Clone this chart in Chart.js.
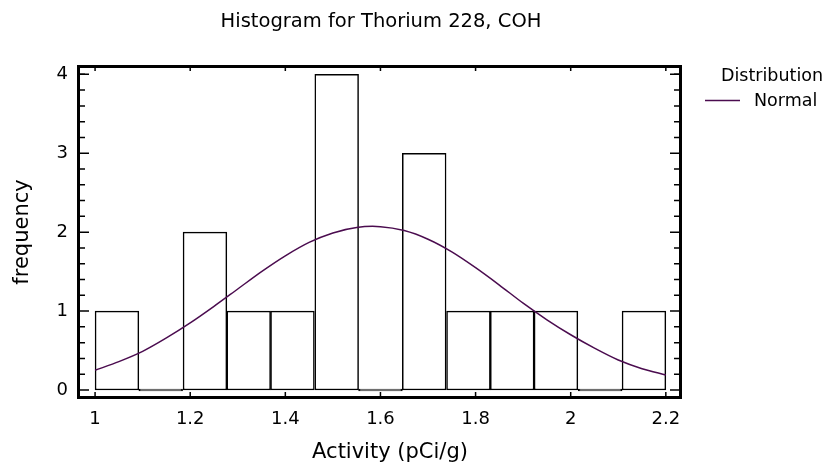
<!DOCTYPE html>
<html>
<head>
<meta charset="utf-8">
<script src="https://cdn.jsdelivr.net/npm/chart.js@4.4.1/dist/chart.umd.min.js"></script>
<style>
  html, body { margin: 0; padding: 0; background: #fff; }
  #wrap { width: 835px; height: 468px; position: relative; }
</style>
</head>
<body>
<div id="wrap"><canvas id="myChart"></canvas></div>
<script>
// histogram bins (centres) and counts
const binCenters = [1.046, 1.138, 1.231, 1.323, 1.415, 1.508, 1.600, 1.692, 1.785, 1.877, 1.969, 2.062, 2.154];
const binCounts = [1, 0, 2, 1, 1, 4, 0, 3, 1, 1, 1, 0, 1];

// fitted normal curve
const curveX = [1.00, 1.05, 1.10, 1.15, 1.20, 1.25, 1.30, 1.35, 1.40, 1.45, 1.50, 1.55, 1.60,
                1.65, 1.70, 1.75, 1.80, 1.85, 1.90, 1.95, 2.00, 2.05, 2.10, 2.15, 2.20];
const curveY = [0.25, 0.36, 0.49, 0.66, 0.85, 1.06, 1.28, 1.50, 1.70, 1.87, 1.99, 2.06, 2.07,
                2.02, 1.91, 1.75, 1.55, 1.33, 1.10, 0.89, 0.70, 0.53, 0.38, 0.27, 0.19];

const xTicks = [1, 1.2, 1.4, 1.6, 1.8, 2, 2.2];
const yTicks = [0, 1, 2, 3, 4];
const yMinor = [0.2, 0.4, 0.6, 0.8, 1.2, 1.4, 1.6, 1.8, 2.2, 2.4, 2.6, 2.8, 3.2, 3.4, 3.6, 3.8, 4.0];

const FONT = "'DejaVu Sans', sans-serif";
const curveColor = "#4b0c4f";

// frame, inward ticks, titles and legend
const decor = {
  id: "decor",
  afterDatasetsDraw(chart) {
    const { ctx, chartArea: a, scales: { x, y } } = chart;
    ctx.save();
    ctx.strokeStyle = "#000";
    ctx.lineWidth = 1.5;
    xTicks.forEach((v) => {
      const px = x.getPixelForValue(v);
      ctx.beginPath();
      ctx.moveTo(px, a.bottom); ctx.lineTo(px, a.bottom - 7);
      ctx.moveTo(px, a.top); ctx.lineTo(px, a.top + 6);
      ctx.stroke();
    });
    yTicks.forEach((v) => {
      const py = y.getPixelForValue(v);
      ctx.beginPath();
      ctx.moveTo(a.left, py); ctx.lineTo(a.left + 12, py);
      ctx.moveTo(a.right, py); ctx.lineTo(a.right - 12, py);
      ctx.stroke();
    });
    yMinor.forEach((v) => {
      const py = y.getPixelForValue(v);
      ctx.beginPath();
      ctx.moveTo(a.left, py); ctx.lineTo(a.left + 8, py);
      ctx.moveTo(a.right, py); ctx.lineTo(a.right - 8, py);
      ctx.stroke();
    });
    ctx.lineWidth = 3;
    ctx.strokeRect(a.left + 1.5, a.top + 1.5, a.right - a.left - 3, a.bottom - a.top - 3);

    ctx.fillStyle = "#000";
    ctx.textBaseline = "alphabetic";
    ctx.textAlign = "center";
    ctx.font = "19.5px " + FONT;
    ctx.fillText("Histogram for Thorium 228, COH", 381, 27);

    ctx.font = "21px " + FONT;
    ctx.fillText("Activity (pCi/g)", 390, 458);

    ctx.save();
    ctx.translate(28, 232);
    ctx.rotate(-Math.PI / 2);
    ctx.fillText("frequency", 0, 0);
    ctx.restore();

    ctx.textAlign = "left";
    ctx.font = "17.5px " + FONT;
    ctx.fillText("Distribution", 721, 81);
    ctx.fillText("Normal", 754, 106);
    ctx.strokeStyle = curveColor;
    ctx.lineWidth = 1.5;
    ctx.beginPath();
    ctx.moveTo(705, 100.5); ctx.lineTo(740, 100.5);
    ctx.stroke();
    ctx.restore();
  },
};

const data = {
  datasets: [
    {
      type: "line",
      label: "Normal",
      data: curveX.map((v, i) => ({ x: v, y: curveY[i] })),
      borderColor: curveColor,
      borderWidth: 1.5,
      pointRadius: 0,
      tension: 0.3,
      order: 0,
    },
    {
      type: "bar",
      label: "Activity",
      data: binCenters.map((v, i) => ({ x: v, y: binCounts[i] })),
      backgroundColor: "#fff",
      borderColor: "#000",
      borderWidth: 1.5,
      borderSkipped: false,
      minBarLength: 2,
      barPercentage: 1,
      categoryPercentage: 1,
      order: 1,
    },
  ],
};

const config = {
  type: "bar",
  data: data,
  options: {
    responsive: true,
    maintainAspectRatio: false,
    animation: false,
    layout: { padding: { top: 65, right: 153, left: 0, bottom: 0 } },
    plugins: {
      legend: { display: false },
      tooltip: { enabled: false },
    },
    scales: {
      x: {
        type: "linear",
        offset: false,
        min: 0.962,
        max: 2.234,
        afterBuildTicks: (s) => { s.ticks = xTicks.map((v) => ({ value: v })); },
        afterFit: (s) => { s.height = 69; },
        grid: { display: false, drawTicks: false, offset: false },
        border: { display: false },
        ticks: {
          color: "#000",
          padding: 10,
          maxRotation: 0,
          font: { family: FONT, size: 18 },
          callback: (v) => String(+v.toFixed(1)),
        },
      },
      y: {
        min: -0.114,
        max: 4.118,
        afterBuildTicks: (s) => { s.ticks = yTicks.map((v) => ({ value: v })); },
        afterFit: (s) => { s.width = 77; },
        grid: { display: false, drawTicks: false },
        border: { display: false },
        ticks: {
          color: "#000",
          padding: 9,
          font: { family: FONT, size: 18 },
        },
      },
    },
  },
  plugins: [decor],
};

const myChart = new Chart(document.getElementById("myChart"), config);
</script>
</body>
</html>
